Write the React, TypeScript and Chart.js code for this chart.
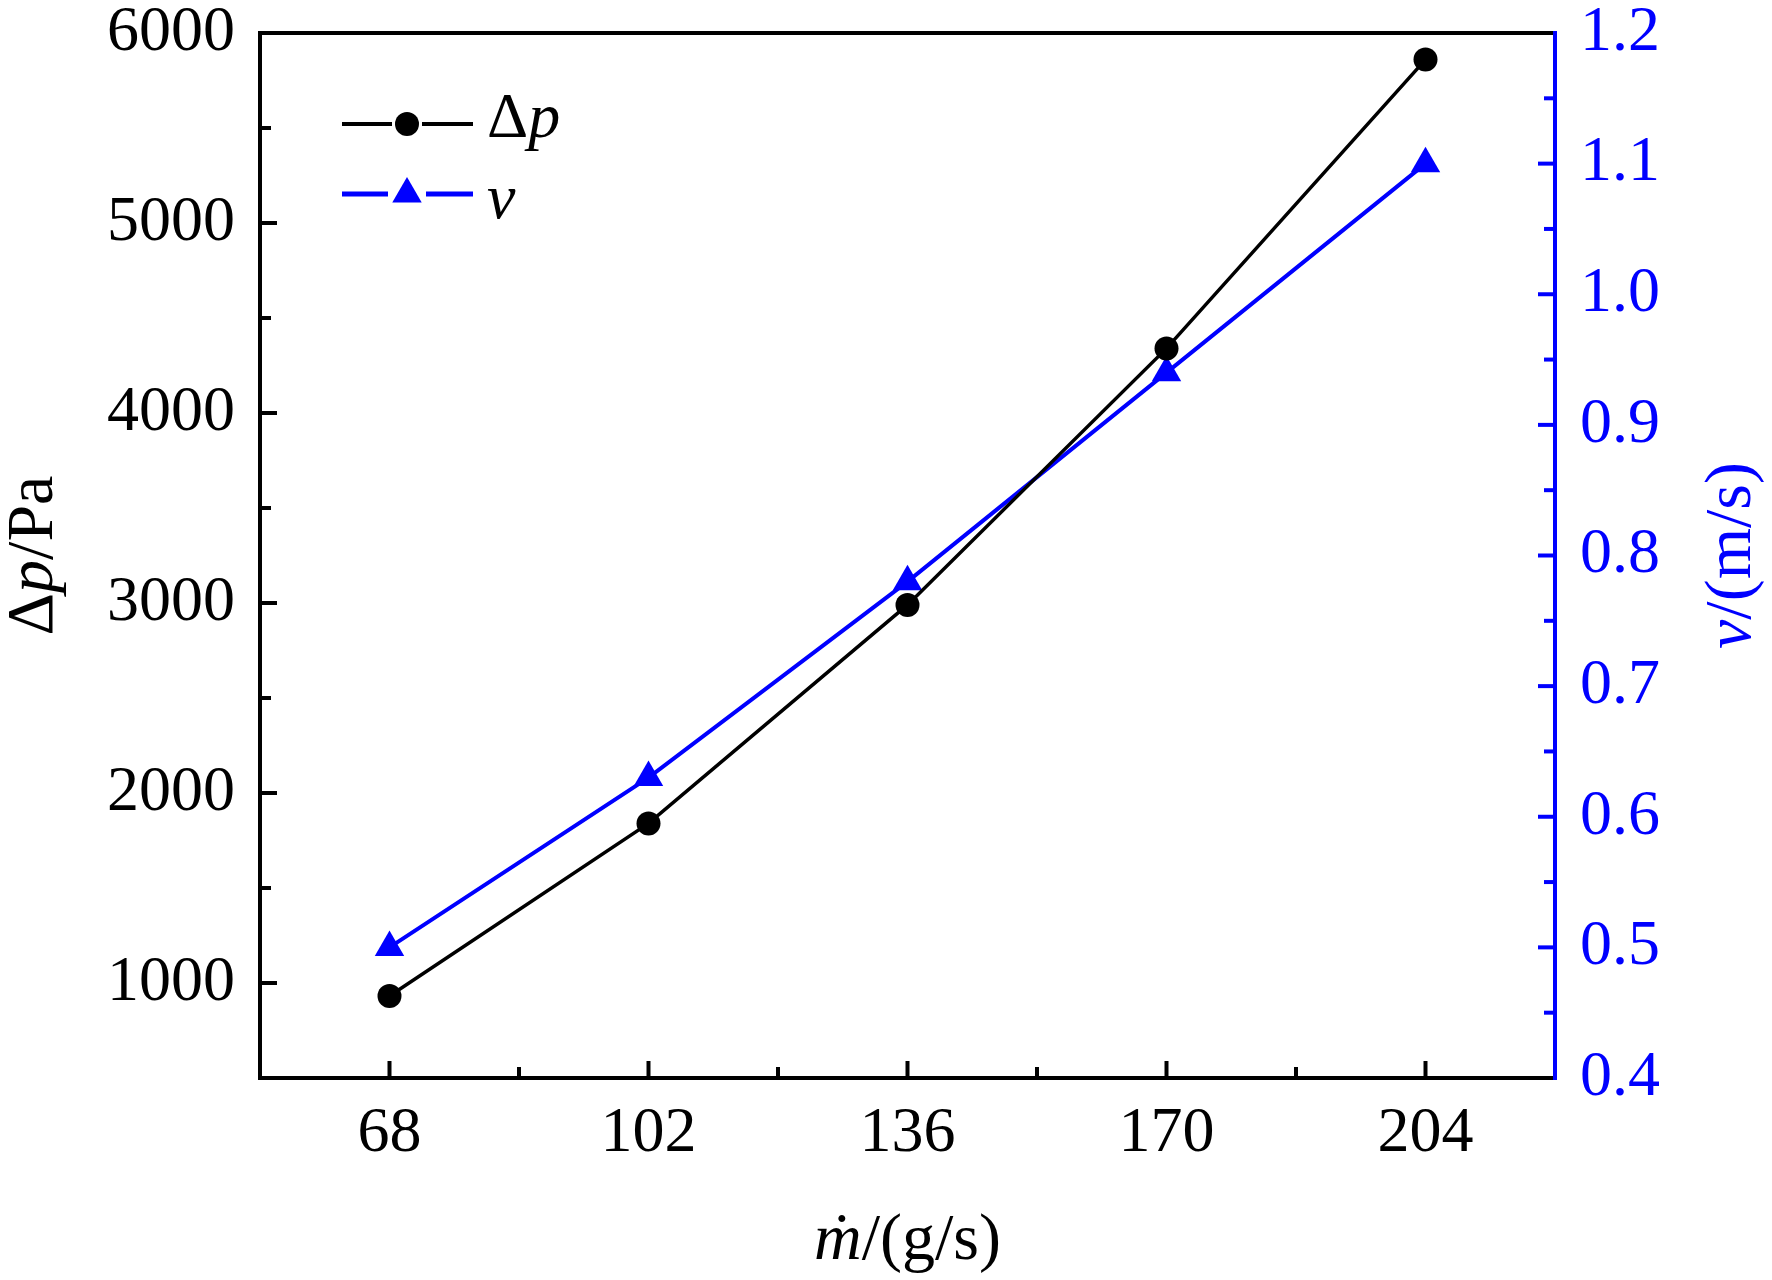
import { useEffect, useRef } from "react";
import { Chart, registerables } from "chart.js";

Chart.register(...registerables);

// values
const massFlow: number[] = [68, 102, 136, 170, 204];
const pressureDrop: number[] = [932, 1840, 2990, 4340, 5860];
const velocity: number[] = [0.5, 0.63, 0.78, 0.94, 1.1];

const xMajorTicks: number[] = [68, 102, 136, 170, 204];
const xMinorTicks: number[] = [85, 119, 153, 187];
const leftMajorTicks: number[] = [1000, 2000, 3000, 4000, 5000, 6000];
const leftMinorTicks: number[] = [1500, 2500, 3500, 4500, 5500];
const rightMajorTicks: number[] = [0.4, 0.5, 0.6, 0.7, 0.8, 0.9, 1.0, 1.1, 1.2];
const rightMinorTicks: number[] = [0.45, 0.55, 0.65, 0.75, 0.85, 0.95, 1.05, 1.15];

const FONT = "'Liberation Serif', 'Times New Roman', serif";
const BLUE = "#0000ff";
const BLACK = "#000000";

type Part = { text: string; italic?: boolean };

function drawParts(
  ctx: CanvasRenderingContext2D,
  parts: Part[],
  x: number,
  y: number,
  size: number,
  color: string,
  align: "left" | "center"
) {
  ctx.save();
  ctx.fillStyle = color;
  ctx.textBaseline = "alphabetic";
  ctx.textAlign = "left";
  const fonts = parts.map((p) => `${p.italic ? "italic " : ""}${size}px ${FONT}`);
  const widths = parts.map((p, i) => {
    ctx.font = fonts[i];
    return ctx.measureText(p.text).width;
  });
  const total = widths.reduce((a, b) => a + b, 0);
  let cx = align === "center" ? x - total / 2 : x;
  const starts: number[] = [];
  parts.forEach((p, i) => {
    ctx.font = fonts[i];
    ctx.fillText(p.text, cx, y);
    starts.push(cx);
    cx += widths[i];
  });
  ctx.restore();
  return { starts, widths };
}

function line(ctx: CanvasRenderingContext2D, x1: number, y1: number, x2: number, y2: number, color: string, w: number) {
  ctx.beginPath();
  ctx.strokeStyle = color;
  ctx.lineWidth = w;
  ctx.moveTo(x1, y1);
  ctx.lineTo(x2, y2);
  ctx.stroke();
}

const framePlugin = {
  id: "frame",
  beforeDatasetsDraw(chart: any) {
    const { ctx, chartArea, scales } = chart;
    const { left, right, top, bottom } = chartArea;
    ctx.save();
    ctx.lineCap = "butt";

    // inward ticks
    xMajorTicks.forEach((v) => {
      const px = scales.x.getPixelForValue(v);
      line(ctx, px, bottom, px, bottom - 17, BLACK, 4);
    });
    xMinorTicks.forEach((v) => {
      const px = scales.x.getPixelForValue(v);
      line(ctx, px, bottom, px, bottom - 11, BLACK, 4);
    });
    leftMajorTicks.forEach((v) => {
      const py = scales.y.getPixelForValue(v);
      line(ctx, left, py, left + 17, py, BLACK, 4);
    });
    leftMinorTicks.forEach((v) => {
      const py = scales.y.getPixelForValue(v);
      line(ctx, left, py, left + 11, py, BLACK, 4);
    });
    rightMajorTicks.forEach((v) => {
      const py = scales.y1.getPixelForValue(v);
      line(ctx, right, py, right - 17, py, BLUE, 4);
    });
    rightMinorTicks.forEach((v) => {
      const py = scales.y1.getPixelForValue(v);
      line(ctx, right, py, right - 11, py, BLUE, 4);
    });

    // frame
    line(ctx, left - 2, top, right, top, BLACK, 4);
    line(ctx, left, top, left, bottom + 2, BLACK, 4);
    line(ctx, left, bottom, right, bottom, BLACK, 4);
    line(ctx, right, top - 2, right, bottom + 2, BLUE, 4);
    ctx.restore();
  },
  afterDraw(chart: any) {
    const { ctx, chartArea } = chart;
    const { left, right, top, bottom } = chartArea;
    const midX = (left + right) / 2;
    const midY = (top + bottom) / 2;

    // left axis title
    ctx.save();
    ctx.translate(52, midY);
    ctx.rotate(-Math.PI / 2);
    drawParts(ctx, [{ text: "Δ" }, { text: "p", italic: true }, { text: "/Pa" }], 0, 0, 66, BLACK, "center");
    ctx.restore();

    // right axis title
    ctx.save();
    ctx.translate(1750, midY);
    ctx.rotate(-Math.PI / 2);
    drawParts(ctx, [{ text: "v", italic: true }, { text: "/(m/s)" }], 0, 0, 66, BLUE, "center");
    ctx.restore();

    // bottom axis title, m with a dot above
    const res = drawParts(ctx, [{ text: "m", italic: true }, { text: "/(g/s)" }], midX, 1259, 66, BLACK, "center");
    ctx.save();
    ctx.fillStyle = BLACK;
    ctx.font = `66px ${FONT}`;
    ctx.textAlign = "center";
    ctx.textBaseline = "alphabetic";
    ctx.fillText("\u02D9", res.starts[0] + res.widths[0] / 2 + 4, 1259);
    ctx.restore();

    // legend
    ctx.save();
    ctx.lineCap = "butt";
    const lx1 = 342;
    const lx2 = 473;
    const mx = 407;
    const y1 = 124;
    const y2 = 194;
    line(ctx, lx1, y1, mx - 15, y1, BLACK, 4);
    line(ctx, mx + 15, y1, lx2, y1, BLACK, 4);
    ctx.beginPath();
    ctx.fillStyle = BLACK;
    ctx.arc(mx, y1, 12, 0, Math.PI * 2);
    ctx.fill();

    line(ctx, lx1, y2, mx - 19, y2, BLUE, 5);
    line(ctx, mx + 19, y2, lx2, y2, BLUE, 5);
    const r = 17;
    ctx.beginPath();
    ctx.fillStyle = BLUE;
    ctx.moveTo(mx, y2 - r);
    ctx.lineTo(mx + r * Math.sin((2 * Math.PI) / 3), y2 + r / 2);
    ctx.lineTo(mx - r * Math.sin((2 * Math.PI) / 3), y2 + r / 2);
    ctx.closePath();
    ctx.fill();
    ctx.restore();

    drawParts(ctx, [{ text: "Δ" }, { text: "p", italic: true }], 487, 137, 64, BLACK, "left");
    drawParts(ctx, [{ text: "v", italic: true }], 487, 218, 64, BLACK, "left");
  },
};

const tickFont = { family: FONT, size: 64 };

const App: React.FC = () => {
  const canvasRef = useRef<HTMLCanvasElement | null>(null);

  useEffect(() => {
    const chart = new Chart(canvasRef.current!, {
      type: "line",
      data: {
        datasets: [
          {
            label: "Δp",
            data: massFlow.map((x, i) => ({ x, y: pressureDrop[i] })),
            yAxisID: "y",
            borderColor: BLACK,
            borderWidth: 3.5,
            pointStyle: "circle",
            pointRadius: 12,
            pointBackgroundColor: BLACK,
            pointBorderWidth: 0,
            fill: false,
            tension: 0,
          },
          {
            label: "v",
            data: massFlow.map((x, i) => ({ x, y: velocity[i] })),
            yAxisID: "y1",
            borderColor: BLUE,
            borderWidth: 4,
            pointStyle: "triangle",
            pointRadius: 17,
            pointBackgroundColor: BLUE,
            pointBorderWidth: 0,
            fill: false,
            tension: 0,
          },
        ],
      },
      options: {
        animation: false,
        responsive: false,
        devicePixelRatio: 1,
        events: [],
        layout: { padding: { top: 33, left: 0, right: 0, bottom: 0 } },
        plugins: {
          legend: { display: false },
          tooltip: { enabled: false },
        },
        scales: {
          x: {
            type: "linear",
            min: 51,
            max: 221,
            afterBuildTicks: (s: any) => {
              s.ticks = xMajorTicks.map((value) => ({ value }));
            },
            afterFit: (s: any) => {
              s.height = 202;
              s.paddingLeft = 0;
              s.paddingRight = 0;
            },
            grid: { display: false, drawTicks: false },
            border: { display: false },
            ticks: {
              padding: 18,
              color: BLACK,
              font: tickFont,
              maxRotation: 0,
              autoSkip: false,
              callback: (v: any) => String(v),
            },
          },
          y: {
            type: "linear",
            position: "left",
            min: 500,
            max: 6000,
            afterBuildTicks: (s: any) => {
              s.ticks = leftMajorTicks.map((value) => ({ value }));
            },
            afterFit: (s: any) => {
              s.width = 260;
              s.paddingTop = 0;
              s.paddingBottom = 0;
            },
            grid: { display: false, drawTicks: false },
            border: { display: false },
            ticks: {
              padding: 25,
              color: BLACK,
              font: tickFont,
              autoSkip: false,
              callback: (v: any) => String(v),
            },
          },
          y1: {
            type: "linear",
            position: "right",
            min: 0.4,
            max: 1.2,
            afterBuildTicks: (s: any) => {
              s.ticks = rightMajorTicks.map((value) => ({ value }));
            },
            afterFit: (s: any) => {
              s.width = 217;
              s.paddingTop = 0;
              s.paddingBottom = 0;
            },
            grid: { display: false, drawTicks: false },
            border: { display: false },
            ticks: {
              padding: 25,
              color: BLUE,
              font: tickFont,
              autoSkip: false,
              callback: (v: any) => Number(v).toFixed(1),
            },
          },
        },
      } as any,
      plugins: [framePlugin],
    });

    return () => {
      chart.destroy();
    };
  }, []);

  return (
    <div style={{ position: "absolute", left: 0, top: 0, width: 1772, height: 1280, background: "#fff" }}>
      <canvas ref={canvasRef} width={1772} height={1280} style={{ display: "block" }} />
    </div>
  );
};

export default App;
